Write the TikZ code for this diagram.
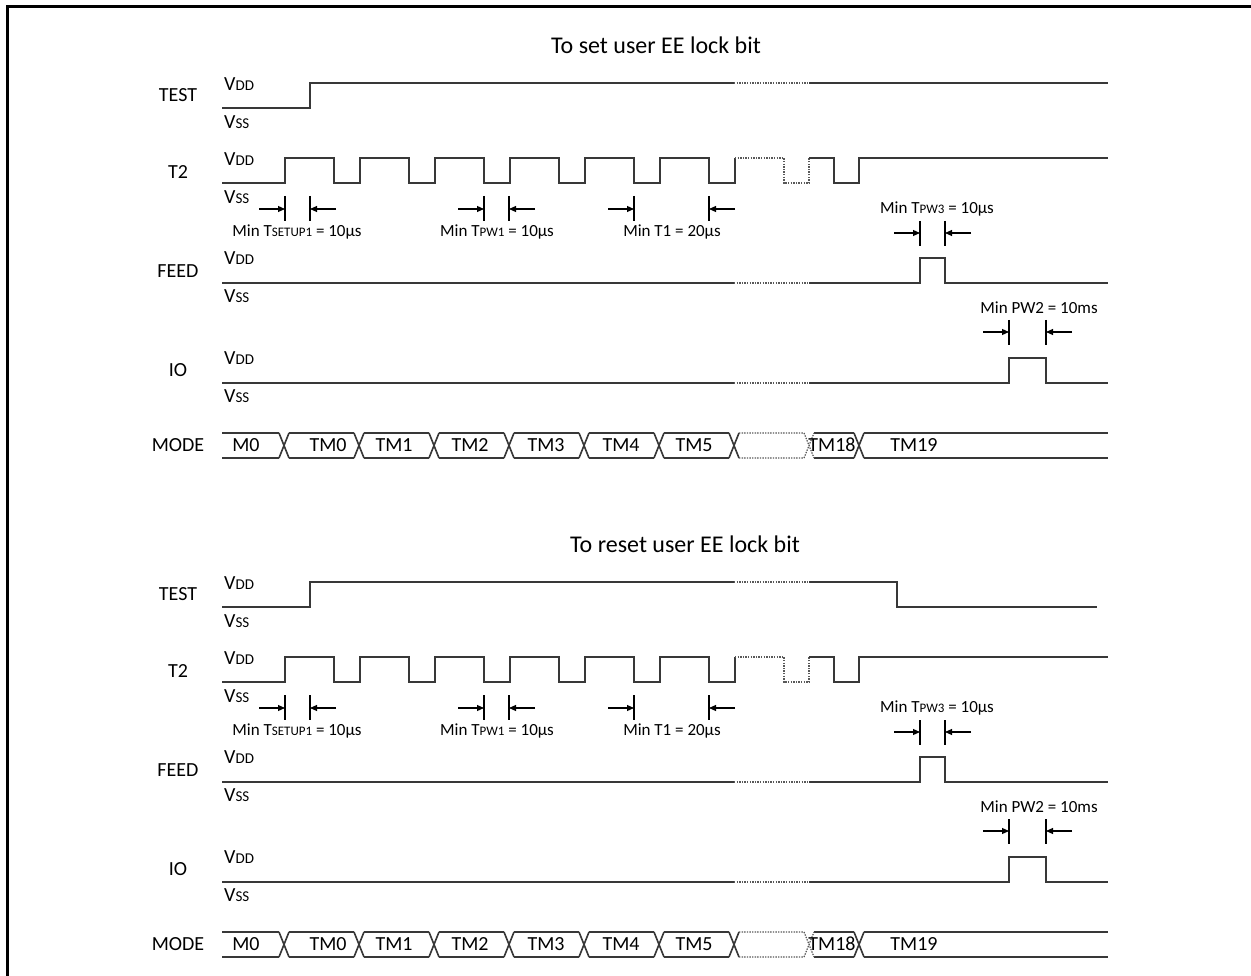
\documentclass[tikz,border=0pt]{standalone}
\usepackage{fontspec}
\setmainfont{Carlito}
\usetikzlibrary{arrows.meta}

% smaller capitals used in V_DD, T_PW1 ...
\newcommand{\vsub}[1]{{\fontsize{15}{15}\selectfont #1}}
\newcommand{\tsub}[1]{{\fontsize{13}{13}\selectfont #1}}

\tikzset{
  wave/.style={line width=1.6pt, draw=black!78},
  gapwave/.style={line width=1.2pt, draw=black!65, dash pattern=on 1.4pt off 1.2pt},
  signame/.style={font=\fontsize{20}{20}\selectfont, inner sep=0},
  level/.style={font=\fontsize{20}{20}\selectfont, anchor=west, inner sep=0},
  note/.style={font=\fontsize{17}{17}\selectfont, inner sep=0},
  title/.style={font=\fontsize{24}{24}\selectfont, inner sep=0},
  dimline/.style={line width=1.1pt},
  dimarrow/.style={line width=1.1pt, -{Triangle[length=7pt,width=6pt]}},
  half/.pic={code={%

      % signal names
      \node [signame] (-test) at (178,95) {TEST};
      \node [signame] (-t2) at (178,172) {T2};
      \node [signame] (-feed) at (178,271) {FEED};
      \node [signame] (-io) at (178,370) {IO};
      \node [signame] (-mode) at (178,445) {MODE};

      % supply levels
      \node [level] (-testvdd) at (224,84) {V\vsub{DD}};
      \node [level] (-testvss) at (224,122) {V\vsub{SS}};
      \node [level] (-t2vdd) at (224,159) {V\vsub{DD}};
      \node [level] (-t2vss) at (224,197) {V\vsub{SS}};
      \node [level] (-feedvdd) at (224,258) {V\vsub{DD}};
      \node [level] (-feedvss) at (224,296) {V\vsub{SS}};
      \node [level] (-iovdd) at (224,358) {V\vsub{DD}};
      \node [level] (-iovss) at (224,396) {V\vsub{SS}};

      % T2 clock
      \draw [wave] (222,183) foreach \r in {285,360,...,660} {-- (\r,183) -- (\r,158) -- (\r+49,158) -- (\r+49,183)} -- (735,183) -- (735,158);
      \draw [gapwave] (735,158) -- (784,158) -- (784,183) -- (809,183) -- (809,158);
      \draw [wave] (809,158) -- (834,158) -- (834,183) -- (859,183) -- (859,158) -- (1108,158);

      % FEED
      \draw [wave] (222,283) -- (734,283);
      \draw [gapwave] (734,283) -- (809,283);
      \draw [wave] (809,283) -- (920,283) -- (920,258) -- (945,258) -- (945,283) -- (1108,283);

      % IO
      \draw [wave] (222,383) -- (734,383);
      \draw [gapwave] (734,383) -- (809,383);
      \draw [wave] (809,383) -- (1009,383) -- (1009,358) -- (1046,358) -- (1046,383) -- (1108,383);

      % MODE bus
      \foreach \a/\b in {222/279,289/354,364/429,439/504,514/579,589/654,664/729,814/854,864/1108}
        \draw [wave] (\a,433) -- (\b,433) (\a,458) -- (\b,458);
      \foreach \c in {284,359,434,509,584,659,734,859}
        \draw [wave] (\c-5,433) -- (\c+5,458) (\c-5,458) -- (\c+5,433);
      \draw [gapwave] (739,433) -- (804,433) (739,458) -- (804,458)
        (804,433) -- (814,458) (804,458) -- (814,433);
      \node [signame] (-m0) at (246,445) {M0};
      \node [signame] (-tm0) at (328,445) {TM0};
      \node [signame] (-tm1) at (394,445) {TM1};
      \node [signame] (-tm2) at (470,445) {TM2};
      \node [signame] (-tm3) at (546,445) {TM3};
      \node [signame] (-tm4) at (621,445) {TM4};
      \node [signame] (-tm5) at (694,445) {TM5};
      \node [signame] (-tm18) at (832,445) {TM18};
      \node [signame] (-tm19) at (914,445) {TM19};

      % timing marks on T2
      \foreach \a/\b in {285/310,484/509,634/709} {
        \draw [dimline] (\a,196) -- (\a,221) (\b,196) -- (\b,221);
        \draw [dimarrow] (\a-26,209) -- (\a,209);
        \draw [dimarrow] (\b+26,209) -- (\b,209);
      }
      \node [note] (-tsetup) at (297,232) {Min T\tsub{SETUP1} = 10µs};
      \node [note] (-tpw1) at (497,232) {Min T\tsub{PW1} = 10µs};
      \node [note] (-tone) at (672,232) {Min T1 = 20µs};

      % timing mark on FEED
      \draw [dimline] (920,221) -- (920,246) (945,221) -- (945,246);
      \draw [dimarrow] (894,233) -- (920,233);
      \draw [dimarrow] (971,233) -- (945,233);
      \node [note] (-tpw3) at (937,209) {Min T\tsub{PW3} = 10µs};

      % timing mark on IO
      \draw [dimline] (1009,320) -- (1009,345) (1046,320) -- (1046,345);
      \draw [dimarrow] (983,332) -- (1009,332);
      \draw [dimarrow] (1072,332) -- (1046,332);
      \node [note] (-pw2) at (1039,308) {Min PW2 = 10ms};
}}}

\begin{document}
\begin{tikzpicture}[x=1pt, y=-1pt]
    \useasboundingbox (0,0) rectangle (1251,976);
    \draw [line width=3pt] (7,976) -- (7,7) -- (1251,7);

    \path (0,0) pic (set) {half};
    \path (0,499) pic (reset) {half};
    \node [title] (settitle) at (656,45) {To set user EE lock bit};
    \node [title] (resettitle) at (685,544) {To reset user EE lock bit};

    % TEST, set
    \draw [wave] (222,108) -- (310,108) -- (310,83) -- (734,83);
    \draw [gapwave] (734,83) -- (809,83);
    \draw [wave] (809,83) -- (1108,83);

    % TEST, reset
    \draw [wave] (222,607) -- (310,607) -- (310,582) -- (734,582);
    \draw [gapwave] (734,582) -- (809,582);
    \draw [wave] (809,582) -- (897,582) -- (897,607) -- (1097,607);
\end{tikzpicture}
\end{document}
